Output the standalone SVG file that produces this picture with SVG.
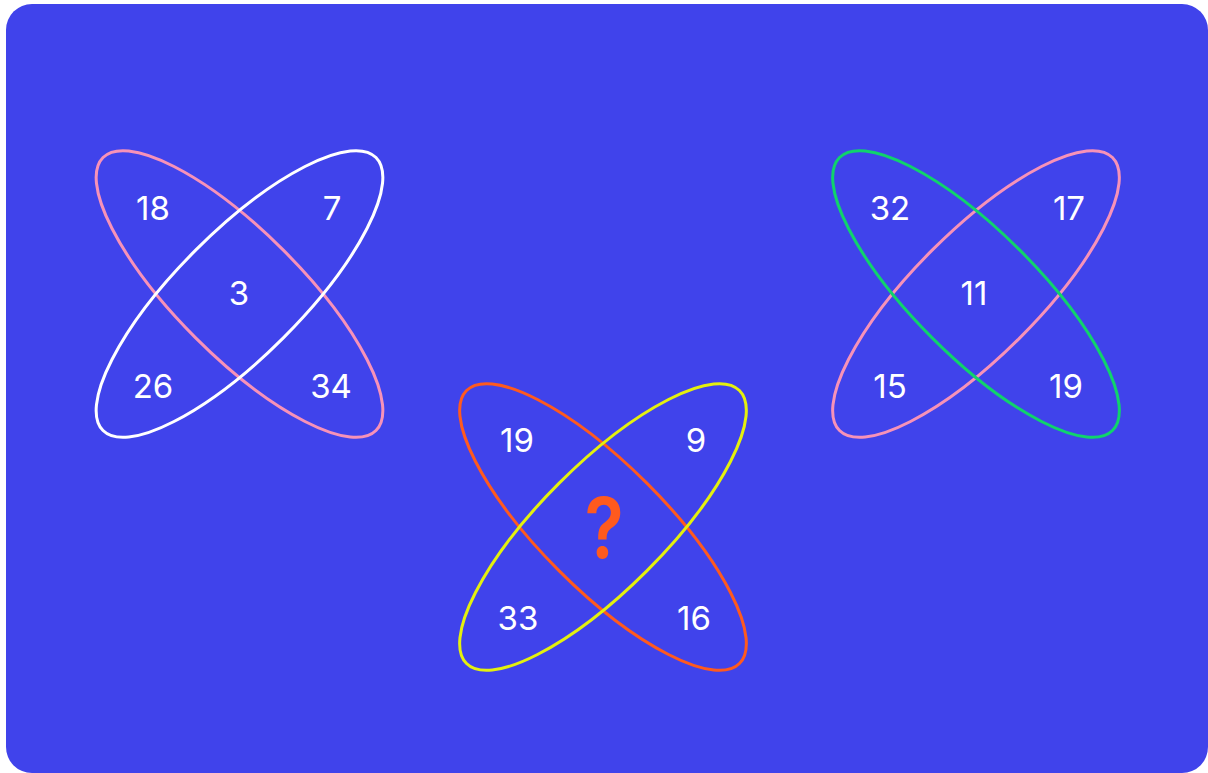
<svg xmlns="http://www.w3.org/2000/svg" width="1208" height="773" viewBox="0 0 1208 773">
<style>
.bg{fill:#4043EB}
.e{fill:none;stroke-width:3}
.pink{stroke:#F792B8}
.white{stroke:#FFFFFF}
.orange{stroke:#FF5A1E}
.yellow{stroke:#E4F00E}
.green{stroke:#10D36C}
.n{font-family:Inter,"Liberation Sans",sans-serif;font-size:33px;fill:#FFFFFF;text-anchor:middle}
.q{font-family:Inter,"Liberation Sans",sans-serif;font-size:84px;font-weight:600;fill:#FF5A1E;text-anchor:middle}
</style>
<rect class="bg" x="6" y="4" width="1202" height="769" rx="26"/>
<g id="left">
<ellipse class="e pink" cx="0" cy="0" rx="193" ry="62" transform="translate(239.5 294) rotate(45)"/>
<ellipse class="e white" cx="0" cy="0" rx="193" ry="62" transform="translate(239.5 294) rotate(-45)"/>
<text class="n" x="153" y="220">18</text>
<text class="n" x="332" y="220">7</text>
<text class="n" x="239" y="305">3</text>
<text class="n" x="153" y="398">26</text>
<text class="n" x="331" y="398">34</text>
</g>
<g id="middle">
<ellipse class="e orange" cx="0" cy="0" rx="193" ry="62" transform="translate(603 527) rotate(45)"/>
<ellipse class="e yellow" cx="0" cy="0" rx="193" ry="62" transform="translate(603 527) rotate(-45)"/>
<text class="n" x="517" y="452">19</text>
<text class="n" x="696" y="452">9</text>
<text class="q" transform="translate(604 558) scale(0.86 1)" x="0" y="0">?</text>
<text class="n" x="518" y="630">33</text>
<text class="n" x="694" y="630">16</text>
</g>
<g id="right">
<ellipse class="e pink" cx="0" cy="0" rx="193" ry="62" transform="translate(976 294) rotate(-45)"/>
<ellipse class="e green" cx="0" cy="0" rx="193" ry="62" transform="translate(976 294) rotate(45)"/>
<text class="n" x="890" y="220">32</text>
<text class="n" x="1069" y="220">17</text>
<text class="n" x="974" y="305">11</text>
<text class="n" x="890" y="398">15</text>
<text class="n" x="1066" y="398">19</text>
</g>
<g id="connectors"/>
</svg>
